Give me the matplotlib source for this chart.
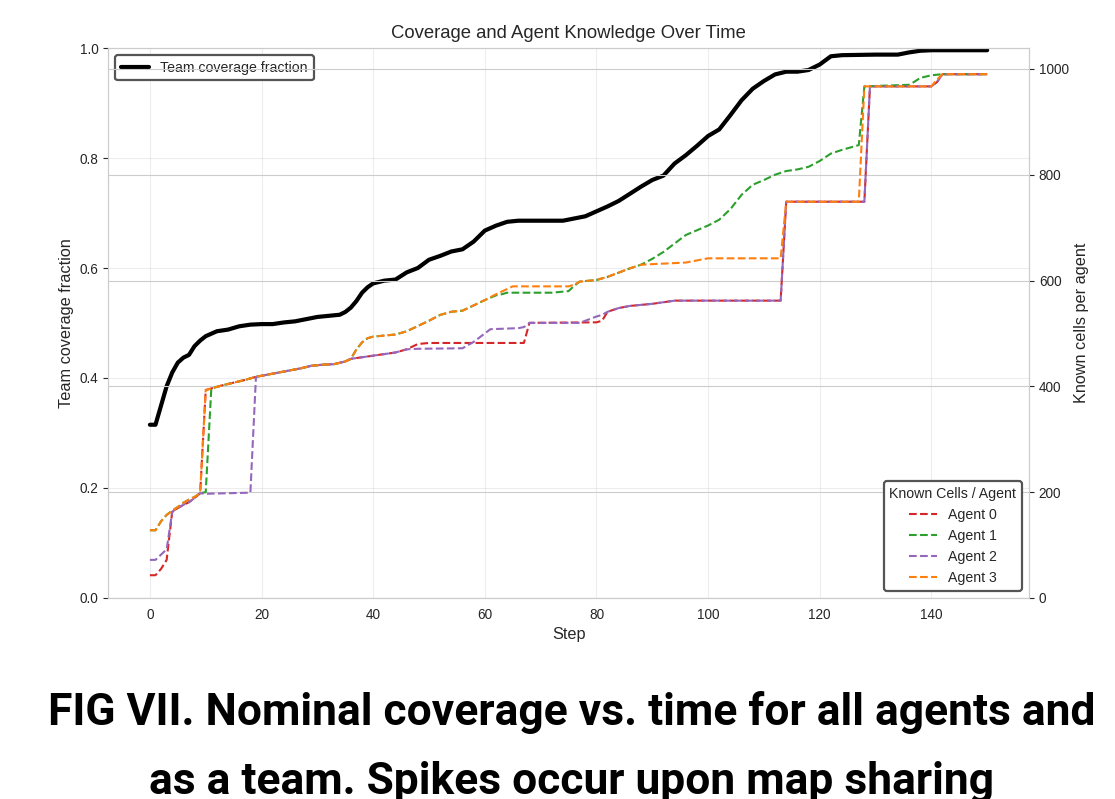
import matplotlib
matplotlib.use("Agg")
import matplotlib.pyplot as plt
from matplotlib import font_manager
import seaborn as sns

# team coverage fraction (left axis)
team_steps = [0, 1, 2, 3, 4, 5, 6, 7, 8, 9, 10, 12, 14, 16, 18, 20, 22, 24, 26, 28, 30,
              32, 34, 35, 36, 37, 38, 39, 40, 42, 44, 46, 48, 50, 52, 54, 56, 58, 60, 62,
              64, 66, 70, 74, 76, 78, 80, 82, 84, 86, 88, 90, 92, 94, 96, 98, 100, 102,
              104, 106, 108, 110, 112, 114, 116, 118, 120, 122, 124, 130, 134, 136, 138,
              140, 150]
team_cov = [0.315, 0.315, 0.35, 0.385, 0.41, 0.428, 0.437, 0.442, 0.458, 0.468, 0.476,
            0.485, 0.488, 0.494, 0.497, 0.498, 0.498, 0.501, 0.503, 0.507, 0.511, 0.513,
            0.515, 0.52, 0.528, 0.54, 0.555, 0.565, 0.572, 0.577, 0.579, 0.592, 0.6,
            0.615, 0.622, 0.63, 0.634, 0.648, 0.668, 0.677, 0.684, 0.686, 0.686, 0.686,
            0.69, 0.694, 0.703, 0.712, 0.722, 0.735, 0.748, 0.76, 0.768, 0.79, 0.805,
            0.822, 0.84, 0.852, 0.878, 0.905, 0.926, 0.94, 0.952, 0.957, 0.957, 0.96,
            0.97, 0.985, 0.987, 0.988, 0.988, 0.992, 0.995, 0.996, 0.996]

# known cells per agent (right axis)
a0_steps = [0, 1, 2, 3, 4, 5, 6, 7, 8, 9, 10, 11, 13, 15, 17, 19, 21, 23, 25, 27, 29, 31,
            33, 35, 36, 38, 40, 42, 44, 46, 48, 50, 66, 67, 68, 80, 81, 82, 84, 86, 88,
            90, 92, 94, 113, 114, 128, 129, 140, 141, 142, 150]
a0_cells = [43, 43, 55, 72, 163, 170, 176, 181, 189, 198, 393, 396, 402, 407, 412, 418,
            422, 426, 430, 434, 439, 441, 442, 447, 452, 455, 458, 461, 464, 470, 480,
            482, 482, 482, 520, 521, 524, 541, 548, 552, 554, 556, 559, 562, 562, 749,
            749, 967, 967, 975, 990, 990]

a1_steps = [0, 1, 2, 3, 4, 5, 6, 7, 8, 9, 10, 11, 13, 15, 17, 19, 21, 23, 25, 27, 29, 31,
            33, 35, 36, 37, 38, 39, 40, 42, 44, 46, 48, 50, 52, 54, 56, 58, 60, 62, 63,
            64, 72, 75, 76, 77, 80, 82, 84, 86, 88, 90, 92, 94, 96, 98, 100, 102, 104,
            106, 108, 110, 112, 114, 116, 118, 120, 122, 124, 126, 127, 128, 136, 137,
            138, 140, 142, 150]
a1_cells = [128, 128, 145, 157, 165, 172, 180, 186, 191, 198, 200, 396, 402, 407, 412,
            418, 422, 426, 430, 434, 439, 441, 442, 447, 452, 470, 483, 491, 494, 496,
            498, 504, 514, 524, 535, 541, 543, 553, 563, 572, 574, 577, 577, 580, 590,
            598, 601, 607, 615, 623, 630, 641, 654, 670, 686, 695, 704, 715, 735, 762,
            781, 790, 800, 807, 810, 815, 826, 840, 847, 853, 856, 967, 970, 976, 983,
            988, 990, 990]

a2_steps = [0, 1, 2, 3, 4, 5, 6, 7, 8, 9, 10, 18, 19, 21, 23, 25, 27, 29, 31, 33, 35, 36,
            38, 40, 42, 44, 46, 48, 56, 58, 60, 61, 66, 67, 68, 77, 78, 80, 81, 82, 84,
            86, 88, 90, 92, 94, 113, 114, 128, 129, 140, 141, 142, 150]
a2_cells = [72, 72, 82, 92, 163, 170, 176, 181, 189, 198, 197, 199, 418, 422, 426, 430,
            434, 439, 441, 442, 447, 452, 455, 458, 461, 464, 470, 471, 472, 484, 500,
            508, 510, 512, 520, 520, 524, 532, 535, 541, 548, 552, 554, 556, 559, 562,
            562, 749, 749, 967, 967, 975, 990, 990]

a3_steps = [0, 1, 2, 3, 4, 5, 6, 7, 8, 9, 10, 11, 13, 15, 17, 19, 21, 23, 25, 27, 29, 31,
            33, 35, 36, 37, 38, 39, 40, 42, 44, 46, 48, 50, 52, 54, 56, 58, 60, 62, 64,
            65, 75, 76, 77, 80, 82, 84, 86, 88, 90, 96, 98, 100, 113, 114, 127, 128, 140,
            141, 142, 150]
a3_cells = [128, 128, 145, 157, 165, 172, 180, 186, 191, 198, 393, 396, 402, 407, 412,
            418, 422, 426, 430, 434, 439, 441, 442, 447, 452, 470, 483, 491, 494, 496,
            498, 504, 514, 524, 535, 541, 543, 553, 563, 574, 584, 589, 589, 592, 598,
            601, 607, 615, 623, 630, 631, 634, 638, 642, 642, 749, 749, 967, 967, 980,
            990, 990]

agent_names = ["Agent 0", "Agent 1", "Agent 2", "Agent 3"]
agent_colors = ["tab:red", "tab:green", "tab:purple", "tab:orange"]

caption_lines = ["FIG VII. Nominal coverage vs. time for all agents and",
                 "as a team. Spikes occur upon map sharing"]

sns.set_style("whitegrid")
plt.rcParams["font.family"] = ["Liberation Sans", "DejaVu Sans"]

fig = plt.figure(figsize=(11.15, 7.99), dpi=100)
ax1 = fig.add_axes([0.0969, 0.2516, 0.826, 0.6883])

ax1.plot(team_steps, team_cov, color="black", lw=3, label="Team coverage fraction")
ax1.set_ylim(0, 1.0)
ax1.set_xlabel("Step", fontsize=11.7, color="#262626")
ax1.set_ylabel("Team coverage fraction", fontsize=11.7, color="#262626")
ax1.set_title("Coverage and Agent Knowledge Over Time", fontsize=13.3, color="#262626", pad=7)
ax1.tick_params(labelsize=9.8, colors="#262626")
ax1.grid(alpha=0.35)
ax1.set_xticks(range(0, 141, 20))

ax2 = ax1.twinx()
agent_steps = [a0_steps, a1_steps, a2_steps, a3_steps]
agent_cells = [a0_cells, a1_cells, a2_cells, a3_cells]
for st, ce, nm, col in zip(agent_steps, agent_cells, agent_names, agent_colors):
    ax2.plot(st, ce, "--", color=col, lw=1.5, label=nm)
ax2.set_ylim(0, 990 * 1.05)
ax2.set_yticks([0, 200, 400, 600, 800, 1000])
ax2.set_ylabel("Known cells per agent", fontsize=11.7, color="#262626")
ax2.tick_params(labelsize=9.8, colors="#262626")
ax2.grid(True, color="#cccccc")

leg1 = ax1.legend(loc="upper left", fontsize=10.2, frameon=True, fancybox=True, framealpha=1)
leg1.get_frame().set_edgecolor("#555555")
leg1.get_frame().set_linewidth(1.6)
leg2 = ax2.legend(title="Known Cells / Agent", loc="lower right", fontsize=10.2,
                  title_fontsize=10.2, frameon=True, fancybox=True, framealpha=1)
leg2.get_frame().set_edgecolor("#555555")
leg2.get_frame().set_linewidth(1.6)

for sp in ax2.spines.values():
    sp.set_color("#cccccc")

installed = {f.name for f in font_manager.fontManager.ttflist}
cap_font = "Roboto" if "Roboto" in installed else "Liberation Sans"

# caption: baselines at ~725 px and ~794 px from the top
t1 = fig.text(0.5126, 1 - 725 / 799, caption_lines[0], ha="center", va="baseline",
              fontsize=28, fontweight="bold", family=[cap_font, "DejaVu Sans"], color="black")
t2 = fig.text(0.5130, 1 - 794 / 799, caption_lines[1], ha="center", va="baseline",
              fontsize=28, fontweight="bold", family=[cap_font, "DejaVu Sans"], color="black")

# scale the caption so the first line spans about 1047 px like the original
fig.canvas.draw()
w = t1.get_window_extent().width
size = 28 * 1047 / w
t1.set_fontsize(size)
t2.set_fontsize(size)

fig.savefig("out.png", dpi=100)
